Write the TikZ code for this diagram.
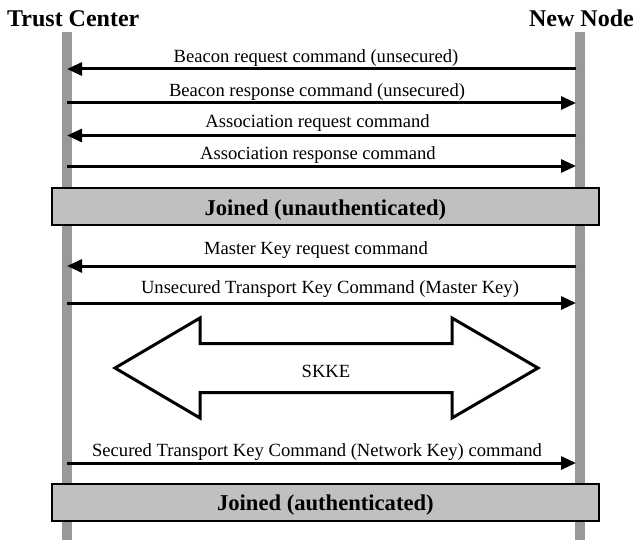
\documentclass[tikz,border=0pt]{standalone}
\usepackage{fontspec}
\setmainfont{Liberation Serif}
\usetikzlibrary{arrows.meta}
\definecolor{lifegray}{RGB}{153,153,153}
\definecolor{boxgray}{RGB}{192,192,192}
\tikzset{
  lbl/.style={anchor=base, inner sep=0pt, font=\fontsize{18.6}{20}\selectfont},
  head/.style={anchor=base, inner sep=0pt, font=\fontsize{24}{26}\selectfont\bfseries},
  msg/.style={line width=3pt, -{Triangle[length=15pt,width=13pt]}},
  life/.style={fill=lifegray, draw=none, inner sep=0pt, minimum width=10pt, minimum height=508pt},
  state/.style={draw=black, line width=2.5pt, fill=boxgray, minimum width=547pt,
    minimum height=36.8pt, inner sep=0pt, text depth=0pt,
    font=\fontsize{22.6}{24}\selectfont\bfseries},
  bigarrow/.style={draw=black, line width=3pt, line join=miter, fill=white},
}
\begin{document}
\begin{tikzpicture}[x=1pt,y=-1pt]
\useasboundingbox (0,0) rectangle (636,540);
% lifelines
\node[life] (tcl) at (67,286) {};
\node[life] (nnl) at (580,286) {};
% headings
\node[head, anchor=base west] (tch) at (7,27) {Trust Center};
\node[head, anchor=base east] (nnh) at (634,27) {New Node};
% message end points
\foreach \i/\y in {1/69,2/103,3/135.5,4/166,5/266,6/303,7/463}{
  \coordinate (tc\i) at (67,\y);
  \coordinate (nn\i) at (576,\y);
}
% messages
\draw[msg] (nn1) -- (tc1);
\node[lbl] (m1) at (316,63) {Beacon request command (unsecured)};
\draw[msg] (tc2) -- (nn2);
\node[lbl] (m2) at (317,97) {Beacon response command (unsecured)};
\draw[msg] (nn3) -- (tc3);
\node[lbl] (m3) at (317.5,128) {Association request command};
\draw[msg] (tc4) -- (nn4);
\node[lbl] (m4) at (318,159) {Association response command};
% state 1
\node[state, text height=17.2pt] (j1) at (325.4,206.4) {Joined (unauthenticated)};
\draw[msg] (nn5) -- (tc5);
\node[lbl] (m5) at (316,254) {Master Key request command};
\draw[msg] (tc6) -- (nn6);
\node[lbl] (m6) at (330,293) {Unsecured Transport Key Command (Master Key)};
% SKKE double arrow
\draw[bigarrow] (115,368) -- (200,318) -- (200,343.5) -- (452,343.5) -- (452,318)
  -- (538,368) -- (452,418) -- (452,392.5) -- (200,392.5) -- (200,418) -- cycle;
\node[lbl] (skke) at (326,377) {SKKE};
\draw[msg] (tc7) -- (nn7);
\node[lbl] (m7) at (317,456) {Secured Transport Key Command (Network Key) command};
% state 2
\node[state, text height=15pt] (j2) at (325.4,502.5) {Joined (authenticated)};
\end{tikzpicture}
\end{document}
